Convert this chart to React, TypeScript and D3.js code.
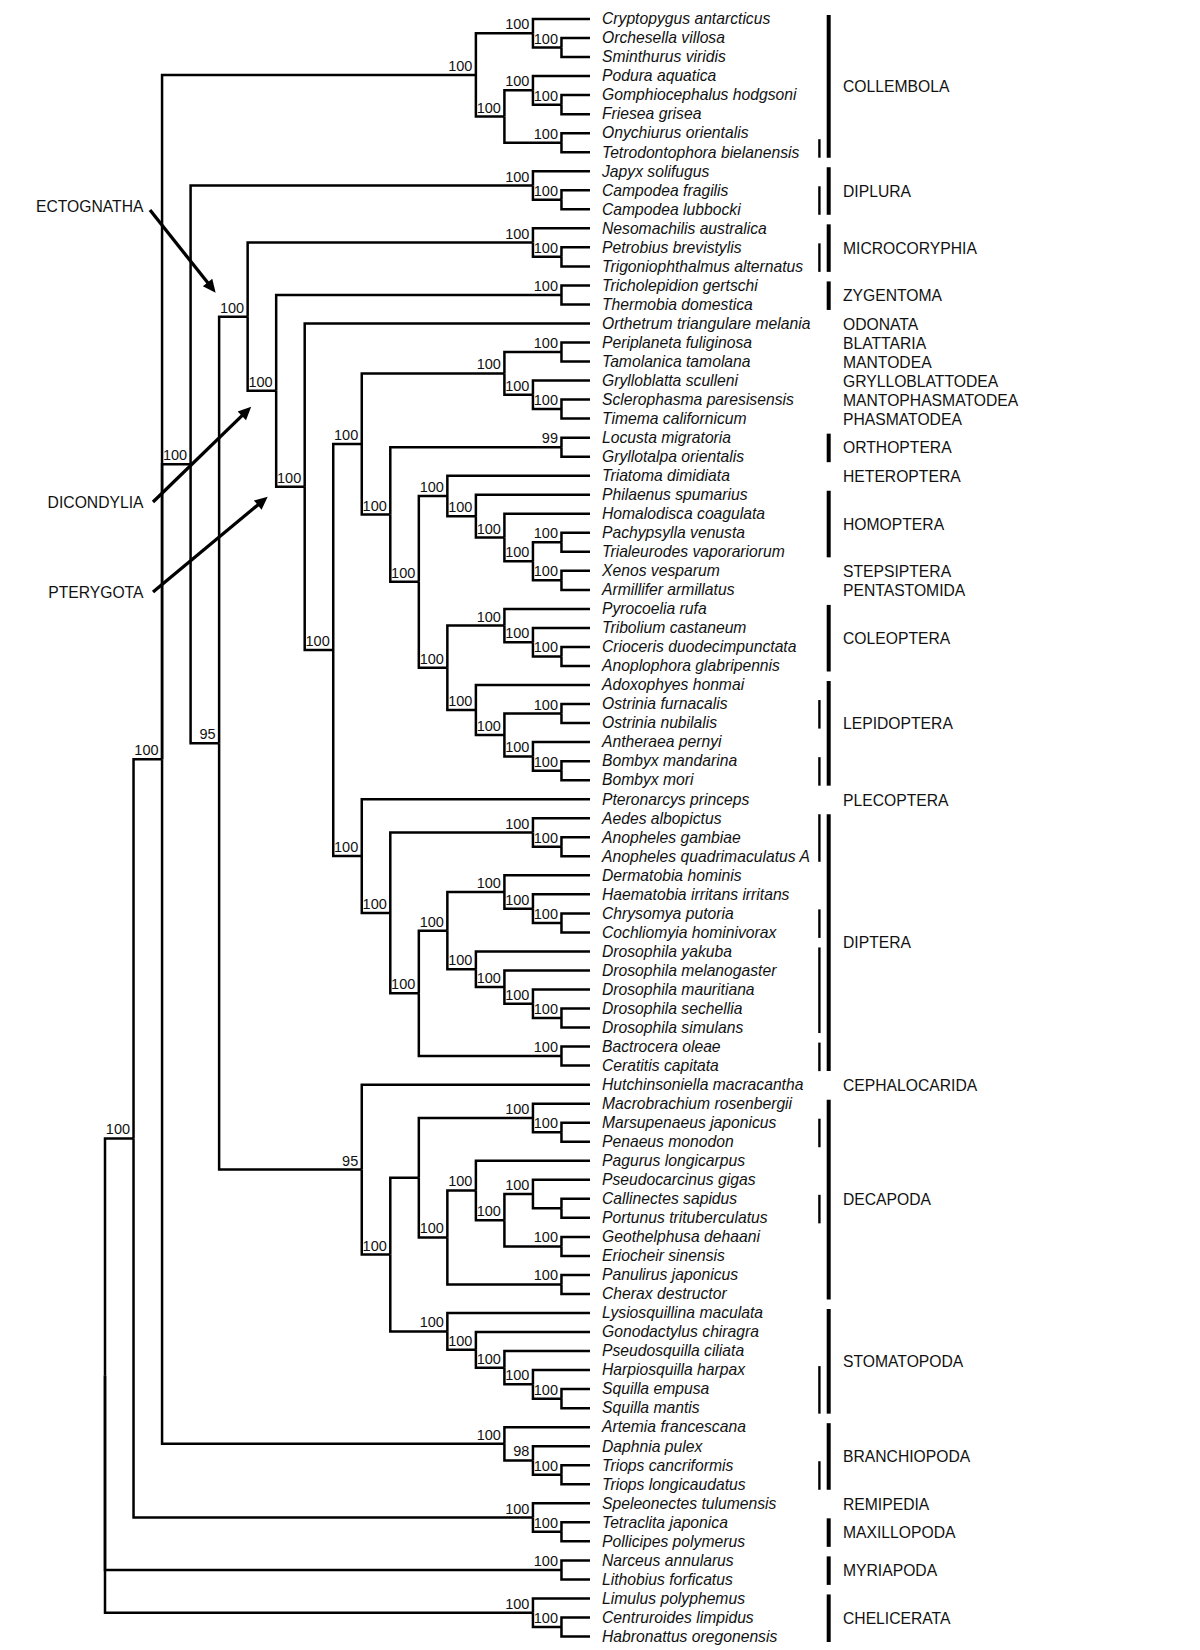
import React from "react";
import * as d3 from "d3";

// ---------- DATA ----------
const TAXA: string[] = [
  "Cryptopygus antarcticus", "Orchesella villosa", "Sminthurus viridis", "Podura aquatica",
  "Gomphiocephalus hodgsoni", "Friesea grisea", "Onychiurus orientalis", "Tetrodontophora bielanensis",
  "Japyx solifugus", "Campodea fragilis", "Campodea lubbocki", "Nesomachilis australica",
  "Petrobius brevistylis", "Trigoniophthalmus alternatus", "Tricholepidion gertschi", "Thermobia domestica",
  "Orthetrum triangulare melania", "Periplaneta fuliginosa", "Tamolanica tamolana", "Grylloblatta sculleni",
  "Sclerophasma paresisensis", "Timema californicum", "Locusta migratoria", "Gryllotalpa orientalis",
  "Triatoma dimidiata", "Philaenus spumarius", "Homalodisca coagulata", "Pachypsylla venusta",
  "Trialeurodes vaporariorum", "Xenos vesparum", "Armillifer armillatus", "Pyrocoelia rufa",
  "Tribolium castaneum", "Crioceris duodecimpunctata", "Anoplophora glabripennis", "Adoxophyes honmai",
  "Ostrinia furnacalis", "Ostrinia nubilalis", "Antheraea pernyi", "Bombyx mandarina",
  "Bombyx mori", "Pteronarcys princeps", "Aedes albopictus", "Anopheles gambiae",
  "Anopheles quadrimaculatus A", "Dermatobia hominis", "Haematobia irritans irritans", "Chrysomya putoria",
  "Cochliomyia hominivorax", "Drosophila yakuba", "Drosophila melanogaster", "Drosophila mauritiana",
  "Drosophila sechellia", "Drosophila simulans", "Bactrocera oleae", "Ceratitis capitata",
  "Hutchinsoniella macracantha", "Macrobrachium rosenbergii", "Marsupenaeus japonicus", "Penaeus monodon",
  "Pagurus longicarpus", "Pseudocarcinus gigas", "Callinectes sapidus", "Portunus trituberculatus",
  "Geothelphusa dehaani", "Eriocheir sinensis", "Panulirus japonicus", "Cherax destructor",
  "Lysiosquillina maculata", "Gonodactylus chiragra", "Pseudosquilla ciliata", "Harpiosquilla harpax",
  "Squilla empusa", "Squilla mantis", "Artemia francescana", "Daphnia pulex",
  "Triops cancriformis", "Triops longicaudatus", "Speleonectes tulumensis", "Tetraclita japonica",
  "Pollicipes polymerus", "Narceus annularus", "Lithobius forficatus", "Limulus polyphemus",
  "Centruroides limpidus", "Habronattus oregonensis",
];

// Clades in Newick form (leaf = index into TAXA, number after ")" = bootstrap support)
const COLLEMBOLA = "((0,(1,2)100)100,((3,(4,5)100)100,(6,7)100)100)100";
const DIPLURA = "(8,(9,10)100)100";
const MICROCORYPHIA = "(11,(12,13)100)100";
const ZYGENTOMA = "(14,15)100";
const POLYNEOPTERA = "((17,18)100,(19,(20,21)100)100)100";
const ORTHOPTERA = "(22,23)99";
const HEMIPTERA = "(24,(25,(26,((27,28)100,(29,30)100)100)100)100)100";
const COLEOPTERA = "(31,(32,(33,34)100)100)100";
const LEPIDOPTERA = "(35,((36,37)100,(38,(39,40)100)100)100)100";
const AEDES = "(42,(43,44)100)100";
const CALYPTRATAE = "(45,(46,(47,48)100)100)100";
const DROSOPHILA = "(49,(50,(51,(52,53)100)100)100)100";
const TEPHRITIDAE = "(54,55)100";
const MACROBRACHIUM = "(57,(58,59)100)100";
const REPTANTIA = "((60,((61,(62,63))100,(64,65)100)100)100,(66,67)100)100";
const STOMATOPODA = "(68,(69,(70,(71,(72,73)100)100)100)100)100";
const BRANCHIOPODA = "(74,(75,(76,77)100)98)100";
const REMIPEDIA_MAX = "(78,(79,80)100)100";
const MYRIAPODA = "(81,82)100";
const CHELICERATA = "(83,(84,85)100)100";

const HOLOMETAB = `(${HEMIPTERA},(${COLEOPTERA},${LEPIDOPTERA})100)100`;
const ORTHO_PLUS = `(${ORTHOPTERA},${HOLOMETAB})100`;
const NEOPTERA_A = `(${POLYNEOPTERA},${ORTHO_PLUS})100`;
const DIPTERA = `(${AEDES},((${CALYPTRATAE},${DROSOPHILA})100,${TEPHRITIDAE})100)100`;
const NEOPTERA_B = `(41,${DIPTERA})100`;
const PTERYGOTA = `(16,(${NEOPTERA_A},${NEOPTERA_B})100)100`;
const INSECTA = `(${MICROCORYPHIA},(${ZYGENTOMA},${PTERYGOTA})100)100`;
const MALACO = `(56,((${MACROBRACHIUM},${REPTANTIA}),${STOMATOPODA})100)95`;
const HEXAPODA_PLUS = `(${DIPLURA},(${INSECTA},${MALACO})95)100`;
const PANCRUSTACEA = `((${COLLEMBOLA},${HEXAPODA_PLUS},${BRANCHIOPODA})100,${REMIPEDIA_MAX})100`;
const TREE = `(${PANCRUSTACEA},${MYRIAPODA},${CHELICERATA})`;

const GROUPS = [
  { name: "COLLEMBOLA", first: 0, last: 7, bar: true },
  { name: "DIPLURA", first: 8, last: 10, bar: true },
  { name: "MICROCORYPHIA", first: 11, last: 13, bar: true },
  { name: "ZYGENTOMA", first: 14, last: 15, bar: true },
  { name: "ODONATA", first: 16, last: 16, bar: false },
  { name: "BLATTARIA", first: 17, last: 17, bar: false },
  { name: "MANTODEA", first: 18, last: 18, bar: false },
  { name: "GRYLLOBLATTODEA", first: 19, last: 19, bar: false },
  { name: "MANTOPHASMATODEA", first: 20, last: 20, bar: false },
  { name: "PHASMATODEA", first: 21, last: 21, bar: false },
  { name: "ORTHOPTERA", first: 22, last: 23, bar: true },
  { name: "HETEROPTERA", first: 24, last: 24, bar: false },
  { name: "HOMOPTERA", first: 25, last: 28, bar: true },
  { name: "STEPSIPTERA", first: 29, last: 29, bar: false },
  { name: "PENTASTOMIDA", first: 30, last: 30, bar: false },
  { name: "COLEOPTERA", first: 31, last: 34, bar: true },
  { name: "LEPIDOPTERA", first: 35, last: 40, bar: true, labelRow: 37 },
  { name: "PLECOPTERA", first: 41, last: 41, bar: false },
  { name: "DIPTERA", first: 42, last: 55, bar: true },
  { name: "CEPHALOCARIDA", first: 56, last: 56, bar: false },
  { name: "DECAPODA", first: 57, last: 67, bar: true },
  { name: "STOMATOPODA", first: 68, last: 73, bar: true },
  { name: "BRANCHIOPODA", first: 74, last: 77, bar: true },
  { name: "REMIPEDIA", first: 78, last: 78, bar: false },
  { name: "MAXILLOPODA", first: 79, last: 80, bar: true },
  { name: "MYRIAPODA", first: 81, last: 82, bar: true },
  { name: "CHELICERATA", first: 83, last: 85, bar: true },
];

// secondary (thin) bars: [first leaf, last leaf]
const SUB_BARS: [number, number][] = [
  [7, 7], [9, 10], [12, 13], [36, 37], [39, 40], [42, 44], [47, 48],
  [49, 53], [54, 55], [58, 59], [62, 63], [71, 73], [76, 77],
];

// annotated clades: text + leaf range spanned by the clade
const ANNOTATIONS = [
  { text: "ECTOGNATHA", first: 11, last: 55 },
  { text: "DICONDYLIA", first: 14, last: 55 },
  { text: "PTERYGOTA", first: 16, last: 55 },
];

// ---------- STYLE / LAYOUT ----------
const ANNOT_LAYOUT = [
  { tx: 143.5, ty: 211.5, sx: 150, sy: 210, dx: -32, dy: -24 },
  { tx: 143.5, ty: 508.3, sx: 153, sy: 502, dx: -25, dy: 16 },
  { tx: 143.5, ty: 598.3, sx: 153, sy: 592, dx: -37, dy: 10 },
];
const FONT = "'Liberation Sans', Arial, Helvetica, sans-serif";

type TNode = { leaf?: number; support?: string | null; children?: TNode[] };

function parseNewick(s: string): TNode {
  let i = 0;
  function node(): TNode {
    if (s[i] === "(") {
      i++;
      const children: TNode[] = [node()];
      while (s[i] === ",") {
        i++;
        children.push(node());
      }
      i++; // ')'
      let sup = "";
      while (i < s.length && /[0-9]/.test(s[i])) sup += s[i++];
      return { children, support: sup || null };
    }
    let num = "";
    while (i < s.length && /[0-9]/.test(s[i])) num += s[i++];
    return { leaf: +num };
  }
  return node();
}

export default function App() {
  const W = 1200;
  const H = 1650;
  const root: any = d3.hierarchy<TNode>(parseNewick(TREE), (d) => d.children);

  const x = d3.scaleLinear().domain([root.height, 0]).range([105, 590]);
  const y = d3.scaleLinear().domain([0, TAXA.length - 1]).range([19, 1636.5]);

  root.eachAfter((n: any) => {
    n.px = x(n.height);
    if (!n.children) {
      n.py = y(n.data.leaf);
      n.lo = n.hi = n.data.leaf;
    } else {
      const f = n.children[0];
      const l = n.children[n.children.length - 1];
      n.py = (f.py + l.py) / 2;
      n.lo = d3.min(n.children, (c: any) => c.lo);
      n.hi = d3.max(n.children, (c: any) => c.hi);
    }
  });

  const nodes: any[] = root.descendants();
  const links = nodes.filter((n) => n.parent);
  const internals = nodes.filter((n) => n.children && n.data.support);
  const leaves = nodes.filter((n) => !n.children);

  const lineColor = "#000";
  const sw = 2.5;

  const findClade = (a: number, b: number) => nodes.find((n) => n.children && n.lo === a && n.hi === b);

  return (
    <svg
      width={W}
      height={H}
      viewBox={`0 0 ${W} ${H}`}
      style={{ position: "absolute", left: 0, top: 0, background: "#fff" }}
      fontFamily={FONT}
    >
      <rect x={0} y={0} width={W} height={H} fill="#fff" />
      {/* branches */}
      <g fill="none" stroke={lineColor} strokeWidth={sw} strokeLinejoin="miter">
        {links.map((n, i) => (
          <path key={i} d={`M${n.parent.px},${n.parent.py}V${n.py}H${n.px}`} />
        ))}
      </g>
      {/* support values */}
      <g fontSize={14.5} textAnchor="end" fill="#111">
        {internals.map((n, i) => (
          <text key={i} x={n.px - 3.5} y={n.py - 4}>
            {n.data.support}
          </text>
        ))}
      </g>
      {/* taxa */}
      <g fontSize={15.7} fontStyle="italic" fill="#111">
        {leaves.map((n, i) => (
          <text key={i} x={n.px + 12} y={n.py + 5.3}>
            {TAXA[n.data.leaf]}
          </text>
        ))}
      </g>
      {/* group bars */}
      <g stroke={lineColor}>
        {GROUPS.filter((g) => g.bar).map((g, i) => (
          <line key={i} x1={828.7} x2={828.7} y1={y(g.first) - 4} y2={y(g.last) + 5.5} strokeWidth={4} />
        ))}
        {SUB_BARS.map(([a, b], i) => (
          <line
            key={"s" + i}
            x1={819.4}
            x2={819.4}
            y1={y(a) - (a === b ? 13 : 4)}
            y2={y(b) + 5.5}
            strokeWidth={2.4}
          />
        ))}
      </g>
      <g fontSize={15.7} fill="#111">
        {GROUPS.map((g, i) => {
          const row = g.labelRow !== undefined ? g.labelRow : (g.first + g.last) / 2;
          return (
            <text key={i} x={843} y={y(row) + 6.3}>
              {g.name}
            </text>
          );
        })}
      </g>
      {/* annotations */}
      <g>
        {ANNOTATIONS.map((a, i) => {
          const L = ANNOT_LAYOUT[i];
          const node = findClade(a.first, a.last);
          const tx = node.px + L.dx;
          const ty = node.py + L.dy;
          const ang = Math.atan2(ty - L.sy, tx - L.sx);
          const hl = 13;
          const hw = 6;
          const bx = tx - hl * Math.cos(ang);
          const by = ty - hl * Math.sin(ang);
          const nx = -Math.sin(ang);
          const ny = Math.cos(ang);
          const pts = `${tx},${ty} ${bx + hw * nx},${by + hw * ny} ${bx - hw * nx},${by - hw * ny}`;
          return (
            <g key={i}>
              <text x={L.tx} y={L.ty} fontSize={15.7} textAnchor="end" fill="#111">
                {a.text}
              </text>
              <line x1={L.sx} y1={L.sy} x2={bx + 1 * Math.cos(ang)} y2={by + 1 * Math.sin(ang)} stroke="#000" strokeWidth={3.3} />
              <polygon points={pts} fill="#000" />
            </g>
          );
        })}
      </g>
    </svg>
  );
}
